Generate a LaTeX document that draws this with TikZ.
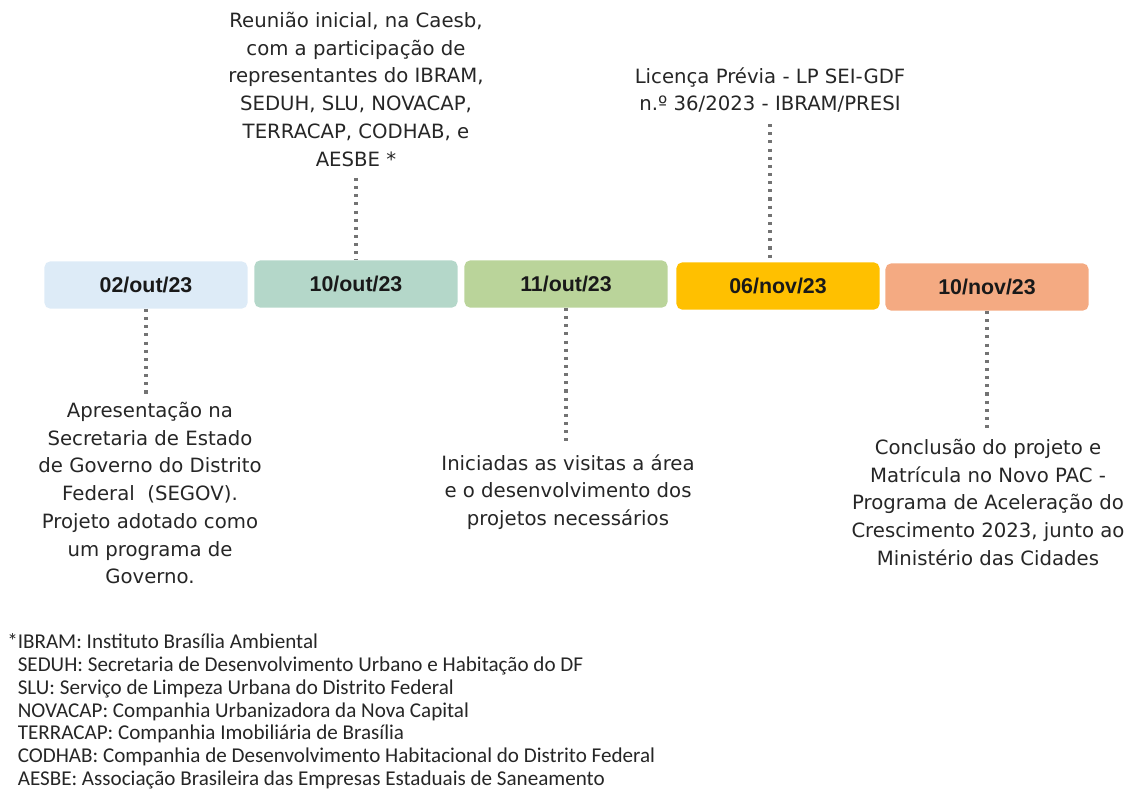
\documentclass[tikz,border=0pt]{standalone}
\usepackage{fontspec}
\setmainfont{DejaVu Sans}
\newfontfamily\datefont{Liberation Sans}
\newfontfamily\notefont{Carlito}
\definecolor{dayA}{HTML}{DDEBF7}
\definecolor{dayB}{HTML}{B4D7C9}
\definecolor{dayC}{HTML}{BAD49A}
\definecolor{dayD}{HTML}{FFC000}
\definecolor{dayE}{HTML}{F4AA82}
\begin{document}
\begin{tikzpicture}[x=0.025cm, y=-0.025cm,
        every node/.style={font=\fontsize{14}{19.7}\selectfont, text=black!85, align=center, inner sep=0pt},
        date/.style={rounded corners=4pt, minimum width=5.075cm, minimum height=1.18cm, text=black!90, font=\datefont\fontsize{15.2}{17}\selectfont\bfseries},
        dots/.style={draw=black!55, line width=2.2pt, dash pattern=on 2.2pt off 3.6pt}]
        \useasboundingbox (0,0) rectangle (1128,791);
        % datas
        \node[date, fill=dayA] (d1) at (146,285) {02/out/23};
        \node[date, fill=dayB] (d2) at (356,284) {10/out/23};
        \node[date, fill=dayC] (d3) at (566,284) {11/out/23};
        \node[date, fill=dayD] (d4) at (778,286) {06/nov/23};
        \node[date, fill=dayE] (d5) at (987,287) {10/nov/23};
        % textos
        \node[anchor=north] (t1) at (150,402) {Apresentação na\\Secretaria de Estado\\de Governo do Distrito\\Federal \ (SEGOV).\\Projeto adotado como\\um programa de\\Governo.};
        \node[anchor=north] (t2) at (356,12) {Reunião inicial, na Caesb,\\com a participação de\\representantes do IBRAM,\\SEDUH, SLU, NOVACAP,\\TERRACAP, CODHAB, e\\AESBE *};
        \node[anchor=north] (t3) at (568,454) {Iniciadas as visitas a área\\e o desenvolvimento dos\\projetos necessários};
        \node[anchor=north] (t4) at (770,67) {Licença Prévia - LP SEI-GDF\\n.º 36/2023 - IBRAM/PRESI};
        \node[anchor=north] (t5) at (988,439) {Conclusão do projeto e\\Matrícula no Novo PAC -\\Programa de Aceleração do\\Crescimento 2023, junto ao\\Ministério das Cidades};
        \draw[dots, shorten >=6pt] (d1.south) -- (d1.south |- t1.north);
        \draw[dots, shorten <=8pt] (d2.north |- t2.south) -- (d2.north);
        \draw[dots, shorten >=8pt] (d3.south) -- (d3.south |- t3.north);
        \draw[dots, shorten <=8pt] (t4.south) -- (t4.south |- d4.north);
        \draw[dots, shorten >=7pt] (d5.south) -- (d5.south |- t5.north);
        % siglas
        \node[anchor=north west, align=left, font=\notefont\fontsize{15}{16.3}\selectfont] (siglas) at (7,633) {*IBRAM: Instituto Brasília Ambiental\\
        \phantom{*}SEDUH: Secretaria de Desenvolvimento Urbano e Habitação do DF\\
        \phantom{*}SLU: Serviço de Limpeza Urbana do Distrito Federal\\
        \phantom{*}NOVACAP: Companhia Urbanizadora da Nova Capital\\
        \phantom{*}TERRACAP: Companhia Imobiliária de Brasília\\
        \phantom{*}CODHAB: Companhia de Desenvolvimento Habitacional do Distrito Federal\\
        \phantom{*}AESBE: Associação Brasileira das Empresas Estaduais de Saneamento};
\end{tikzpicture}
\end{document}
